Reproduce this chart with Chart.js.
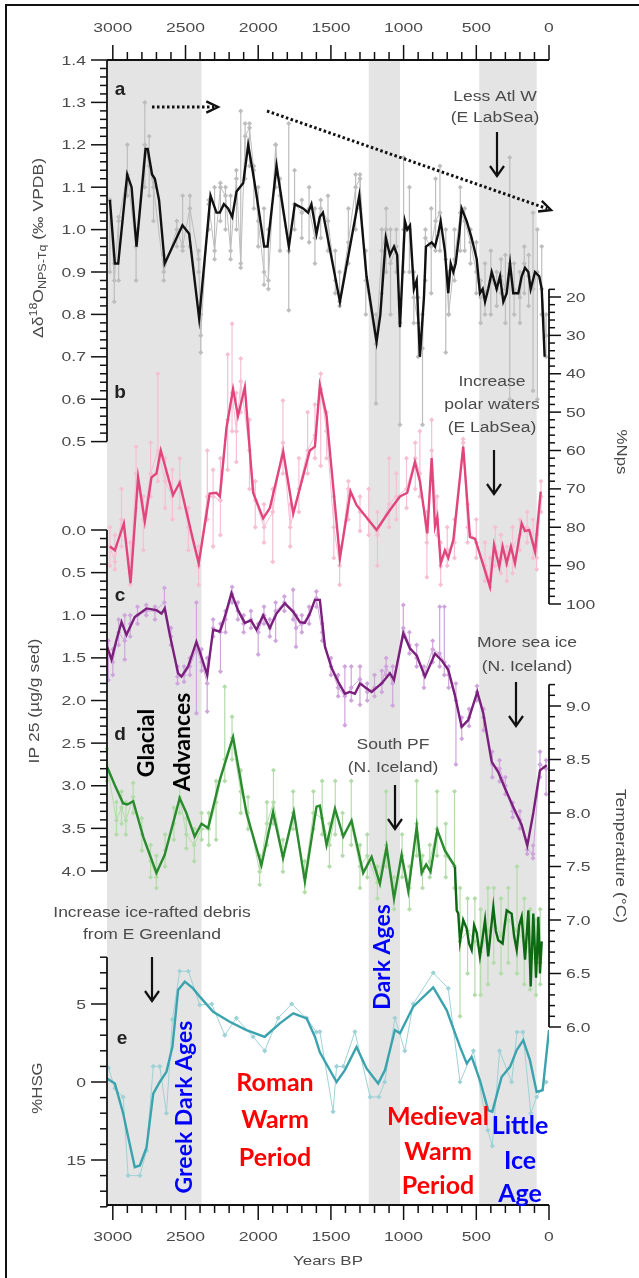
<!DOCTYPE html>
<html>
<head>
<meta charset="utf-8">
<script src="https://cdn.jsdelivr.net/npm/chart.js@4.4.1/dist/chart.umd.min.js"></script>
<style>
  html, body { margin: 0; padding: 0; background: #fff; }
  #chart { display: block; width: 639px; height: 1278px; }
</style>
</head>
<body>
<canvas id="chart" width="639" height="1278"></canvas>
<script>
// ---- x axis (years BP) ----
const xMin = 0, xMax = 3040;
const xTickLabels = [3000, 2500, 2000, 1500, 1000, 500, 0];
const shadedBands = [[3040, 2390], [1240, 1025], [480, 85]];

// ---- a: delta d18O NPS-Tq (per mil VPDB) ----
const aYears = [3020, 2986, 2963, 2901, 2871, 2837, 2775, 2760, 2730, 2711, 2682, 2643, 2521, 2475, 2406, 2328, 2287, 2264, 2236, 2207, 2179, 2149, 2103, 2069, 2039, 2011, 1959, 1936, 1874, 1789, 1748, 1691, 1657, 1634, 1599, 1576, 1555, 1438, 1305, 1255, 1186, 1160, 1122, 1094, 1066, 1044, 1025, 991, 975, 956, 929, 910, 888, 860, 846, 807, 784, 762, 745, 716, 693, 676, 658, 642, 617, 601, 566, 532, 497, 475, 456, 440, 418, 394, 360, 337, 314, 291, 268, 246, 211, 188, 165, 142, 126, 96, 67, 50, 30];
const aSmooth = [1.07, 0.92, 0.92, 1.13, 1.10, 0.96, 1.19, 1.19, 1.13, 1.12, 1.07, 0.92, 1.01, 0.99, 0.79, 1.08, 1.04, 1.04, 1.06, 1.05, 1.03, 1.09, 1.11, 1.20, 1.14, 1.08, 0.96, 0.96, 1.15, 0.96, 1.06, 1.05, 1.04, 1.06, 0.99, 1.03, 1.04, 0.83, 1.08, 0.89, 0.735, 0.80, 0.98, 0.94, 0.96, 0.94, 0.77, 1.02, 1.00, 1.01, 0.86, 0.88, 0.70, 0.84, 0.96, 0.97, 0.96, 0.99, 1.02, 0.95, 0.85, 0.92, 0.90, 0.92, 0.99, 1.05, 1.02, 0.98, 0.93, 0.85, 0.86, 0.83, 0.86, 0.90, 0.86, 0.89, 0.83, 0.85, 0.92, 0.85, 0.85, 0.89, 0.91, 0.90, 0.86, 0.90, 0.89, 0.86, 0.70];
const aRawYears = [3020, 2990, 2960, 2900, 2840, 2780, 2750, 2720, 2650, 2560, 2520, 2470, 2410, 2395, 2340, 2300, 2260, 2225, 2190, 2150, 2120, 2090, 2060, 2030, 2000, 1960, 1930, 1880, 1850, 1790, 1750, 1700, 1650, 1610, 1570, 1520, 1470, 1440, 1380, 1330, 1300, 1260, 1190, 1150, 1120, 1090, 1050, 1025, 1000, 960, 930, 900, 870, 850, 810, 780, 750, 710, 690, 650, 610, 580, 540, 500, 470, 440, 400, 360, 330, 300, 270, 240, 200, 170, 140, 110, 80, 50, 20];
const aRaw = [1.07, 0.88, 1.02, 1.13, 0.96, 1.20, 1.15, 1.10, 0.90, 1.00, 0.96, 1.05, 0.93, 0.75, 1.06, 0.95, 1.10, 1.08, 0.95, 1.12, 0.92, 1.22, 1.24, 1.14, 1.02, 0.90, 0.88, 1.20, 1.08, 0.95, 1.06, 1.04, 1.05, 0.98, 1.05, 1.02, 0.88, 0.83, 0.97, 1.10, 1.12, 0.88, 0.73, 0.95, 1.00, 0.92, 0.96, 0.78, 1.00, 1.00, 0.84, 0.78, 0.72, 0.98, 0.96, 1.02, 1.04, 0.93, 0.80, 0.93, 1.04, 1.02, 0.97, 0.90, 0.84, 0.85, 0.88, 0.86, 0.89, 0.86, 0.92, 0.86, 0.84, 0.92, 0.89, 0.86, 0.90, 0.86, 0.75];
const aRawLo = [0.90, 0.83, 0.88, 1.08, 0.88, 1.10, 1.08, 1.02, 0.88, 0.96, 0.95, 0.96, 0.90, 0.71, 1.00, 0.93, 1.02, 1.00, 0.93, 1.00, 0.91, 1.12, 1.15, 1.05, 0.96, 0.87, 0.86, 1.10, 0.95, 0.81, 1.00, 0.98, 0.97, 0.92, 0.98, 0.95, 0.85, 0.82, 0.92, 1.00, 1.05, 0.80, 0.59, 0.85, 0.90, 0.80, 0.90, 0.54, 0.90, 0.90, 0.78, 0.70, 0.54, 0.88, 0.85, 0.95, 0.95, 0.71, 0.80, 0.88, 0.95, 0.95, 0.92, 0.85, 0.78, 0.80, 0.80, 0.82, 0.85, 0.78, 0.60, 0.80, 0.78, 0.85, 0.82, 0.62, 0.60, 0.80, 0.70];
const aRawHi = [1.07, 0.92, 1.03, 1.20, 1.00, 1.30, 1.22, 1.12, 0.94, 1.02, 1.08, 1.08, 0.95, 0.80, 1.07, 1.10, 1.11, 1.10, 1.08, 1.14, 1.28, 1.25, 1.25, 1.15, 1.10, 1.05, 1.00, 1.20, 1.12, 1.25, 1.14, 1.07, 1.10, 1.05, 1.07, 1.08, 0.95, 0.90, 1.05, 1.13, 1.13, 0.95, 0.80, 1.00, 1.05, 1.00, 1.00, 0.82, 1.17, 1.10, 0.90, 0.84, 0.80, 1.00, 1.05, 1.12, 1.15, 1.00, 0.90, 1.00, 1.10, 1.05, 1.00, 0.97, 0.88, 0.92, 0.95, 0.90, 0.93, 0.94, 1.17, 0.92, 0.90, 0.96, 0.94, 1.04, 1.00, 0.96, 0.80];
const aTicks = [1.4, 1.3, 1.2, 1.1, 1.0, 0.9, 0.8, 0.7, 0.6, 0.5];

// ---- b: %Nps ----
const bYears = [3020, 2986, 2924, 2878, 2826, 2780, 2734, 2700, 2670, 2586, 2540, 2448, 2409, 2334, 2288, 2264, 2218, 2173, 2139, 2092, 2035, 1966, 1920, 1828, 1759, 1645, 1610, 1576, 1530, 1438, 1365, 1324, 1186, 1094, 1025, 975, 922, 888, 837, 807, 784, 768, 745, 716, 693, 658, 590, 544, 509, 406, 378, 342, 319, 291, 262, 234, 188, 165, 136, 96, 57];
const bSmooth = [85, 86, 79, 94.6, 67, 78.5, 67, 66, 60, 71.6, 68.4, 83.3, 89.4, 71.2, 71, 72, 54, 44, 51, 43.5, 71, 77.7, 75, 60.3, 76.4, 60, 59, 43, 51, 88, 70.7, 74.2, 80.7, 75.5, 72, 71, 63, 68, 81.6, 62, 79.8, 77.3, 89.4, 86, 88, 83.3, 59, 82.5, 83, 95.5, 84.6, 90.3, 85, 89.4, 85, 89.4, 79, 81, 80.7, 86.3, 70.7];
const bRawYears = [3020, 2986, 2940, 2880, 2840, 2790, 2740, 2690, 2640, 2590, 2540, 2480, 2410, 2350, 2310, 2260, 2210, 2180, 2150, 2120, 2060, 2020, 1960, 1900, 1830, 1780, 1720, 1660, 1610, 1570, 1530, 1480, 1440, 1380, 1300, 1240, 1180, 1100, 1050, 980, 920, 888, 840, 807, 770, 745, 700, 650, 590, 560, 500, 440, 406, 370, 330, 290, 250, 200, 150, 110, 85, 55];
const bRaw = [85, 89, 78, 92, 66, 78, 66, 60, 68, 72, 68, 80, 90, 72, 72, 73, 52, 45, 55, 42, 60, 73, 80, 76, 58, 80, 70, 60, 56, 44, 55, 80, 90, 70, 76, 78, 82, 74, 72, 70, 62, 66, 84, 60, 78, 90, 86, 84, 58, 80, 84, 90, 94, 85, 88, 90, 85, 82, 80, 84, 88, 72];
const bRawLo = [80, 82, 70, 84, 59, 72, 58, 40, 62, 65, 62, 75, 85, 60, 65, 62, 35, 27, 45, 36, 52, 68, 74, 70, 47, 74, 62, 50, 48, 40, 50, 72, 85, 68, 72, 70, 76, 62, 66, 62, 58, 55, 76, 52, 72, 84, 80, 78, 57, 74, 78, 84, 88, 80, 82, 85, 80, 78, 76, 78, 82, 68];
const bRawHi = [90, 91, 85, 95, 75, 86, 72, 68, 75, 78, 75, 86, 95, 78, 85, 82, 65, 55, 63, 50, 70, 80, 84, 89, 66, 85, 76, 66, 62, 64, 62, 88, 95, 78, 81, 82, 90, 80, 78, 75, 70, 72, 93, 66, 82, 95, 90, 88, 62, 84, 88, 94, 95.5, 90, 92, 94, 92, 86, 84, 88, 91, 76];
const bTicks = [20, 30, 40, 50, 60, 70, 80, 90, 100];

// ---- c: IP25 (ug/g sed) ----
const cYears = [3039, 3009, 2975, 2940, 2906, 2849, 2768, 2700, 2665, 2643, 2608, 2551, 2528, 2482, 2425, 2390, 2351, 2310, 2264, 2230, 2184, 2139, 2092, 2050, 2012, 1966, 1920, 1874, 1817, 1759, 1713, 1679, 1645, 1610, 1576, 1541, 1495, 1450, 1404, 1369, 1335, 1300, 1260, 1220, 1151, 1094, 1066, 1002, 956, 910, 853, 784, 738, 693, 647, 601, 555, 493, 452, 394, 349, 303, 246, 188, 149, 108, 62, 16];
const cSmooth = [1.37, 1.52, 1.29, 1.08, 1.23, 1.02, 0.92, 0.94, 0.98, 0.92, 1.23, 1.68, 1.72, 1.60, 1.31, 1.49, 1.70, 1.17, 1.19, 1.02, 0.74, 0.94, 1.09, 1.06, 1.17, 1.00, 1.15, 0.98, 0.86, 0.96, 1.08, 1.09, 0.98, 0.82, 0.82, 1.37, 1.62, 1.78, 1.92, 1.90, 1.92, 1.80, 1.85, 1.90, 1.80, 1.68, 1.76, 1.21, 1.39, 1.47, 1.72, 1.45, 1.53, 1.64, 1.94, 2.31, 2.23, 1.90, 2.15, 2.72, 2.84, 3.03, 3.25, 3.46, 3.70, 3.32, 2.82, 2.76];
const cRawYears = [3030, 3000, 2960, 2918, 2880, 2830, 2770, 2710, 2645, 2600, 2555, 2510, 2470, 2425, 2390, 2351, 2310, 2260, 2225, 2180, 2140, 2100, 2050, 2000, 1960, 1920, 1880, 1820, 1760, 1740, 1700, 1650, 1600, 1560, 1500, 1450, 1404, 1360, 1300, 1250, 1200, 1150, 1120, 1075, 1002, 960, 910, 860, 800, 752, 720, 690, 640, 600, 550, 495, 450, 390, 340, 300, 250, 200, 150, 110, 62, 20];
const cRaw = [1.45, 1.55, 1.20, 1.30, 1.10, 1.00, 0.95, 0.95, 0.85, 1.25, 1.72, 1.70, 1.60, 1.40, 1.55, 1.80, 1.15, 1.20, 1.05, 0.75, 0.95, 1.10, 1.05, 1.20, 1.00, 1.15, 0.95, 0.85, 0.95, 1.15, 1.10, 1.00, 0.80, 1.20, 1.60, 1.85, 1.95, 1.85, 1.75, 1.90, 1.85, 1.80, 1.60, 1.80, 1.15, 1.35, 1.50, 1.70, 1.40, 1.45, 1.55, 1.70, 2.00, 2.30, 2.20, 1.90, 2.20, 2.75, 2.80, 3.00, 3.30, 3.40, 3.75, 3.80, 2.75, 2.80];
const cRawLo = [1.30, 1.40, 1.05, 1.00, 1.00, 0.90, 0.88, 0.90, 0.68, 1.15, 1.60, 1.60, 1.50, 0.85, 1.40, 1.50, 1.05, 1.10, 0.95, 0.67, 0.85, 1.00, 0.95, 1.10, 0.90, 1.05, 0.85, 0.78, 0.70, 1.00, 1.00, 0.90, 0.72, 1.10, 1.50, 1.70, 1.60, 1.60, 1.60, 1.80, 1.70, 1.65, 1.50, 1.60, 0.88, 1.20, 1.35, 1.60, 1.30, 0.90, 0.90, 1.60, 1.80, 2.20, 2.10, 1.83, 2.10, 2.60, 2.70, 2.90, 3.20, 3.30, 3.65, 3.70, 2.60, 2.70];
const cRawHi = [1.76, 1.70, 1.35, 1.52, 1.25, 1.10, 1.00, 1.05, 0.95, 1.35, 1.80, 1.78, 1.70, 2.15, 1.65, 2.13, 1.25, 1.66, 1.20, 0.85, 1.05, 1.20, 1.15, 1.46, 1.10, 1.25, 1.30, 0.95, 1.05, 1.37, 1.20, 1.10, 0.90, 1.30, 1.70, 1.95, 2.29, 2.00, 2.05, 2.00, 1.95, 1.90, 1.70, 2.06, 1.25, 1.45, 1.60, 1.85, 1.55, 1.60, 1.70, 1.85, 2.75, 2.45, 2.30, 2.00, 2.35, 2.90, 2.95, 3.10, 3.37, 3.50, 3.80, 3.85, 2.90, 3.10];
const cTicks = [0.0, 0.5, 1.0, 1.5, 2.0, 2.5, 3.0, 3.5, 4.0];

// ---- d: Temperature (C) ----
const dYears = [3039, 2986, 2929, 2900, 2860, 2791, 2700, 2643, 2540, 2494, 2437, 2390, 2345, 2264, 2173, 2081, 1978, 1898, 1829, 1755, 1679, 1599, 1576, 1530, 1472, 1415, 1358, 1278, 1220, 1163, 1117, 1066, 1014, 968, 910, 876, 845, 815, 768, 716, 647, 635, 624, 612, 590, 566, 550, 532, 515, 497, 475, 458, 440, 418, 400, 383, 366, 349, 319, 305, 291, 257, 240, 222, 205, 188, 165, 142, 126, 108, 89, 73, 62, 50];
const dSmooth = [8.43, 8.26, 8.09, 8.08, 8.11, 7.78, 7.44, 7.61, 8.14, 8.00, 7.78, 7.90, 7.86, 8.31, 8.71, 8.00, 7.51, 8.01, 7.58, 8.01, 7.36, 8.06, 8.07, 7.70, 8.04, 7.78, 7.93, 7.44, 7.59, 7.34, 7.68, 7.20, 7.61, 7.27, 7.87, 7.44, 7.52, 7.45, 7.84, 7.65, 7.50, 7.09, 7.06, 6.80, 7.00, 6.92, 6.78, 6.72, 6.95, 6.88, 6.66, 6.82, 7.00, 6.66, 6.90, 7.12, 6.90, 6.81, 6.78, 6.95, 7.09, 7.06, 6.85, 6.72, 6.95, 7.03, 6.63, 7.09, 6.38, 7.06, 6.46, 7.03, 6.50, 6.80];
const dRawYears = [3040, 2975, 2940, 2910, 2860, 2800, 2740, 2700, 2640, 2580, 2540, 2494, 2440, 2390, 2340, 2290, 2230, 2180, 2120, 2070, 1990, 1940, 1895, 1830, 1760, 1680, 1620, 1560, 1510, 1470, 1420, 1360, 1300, 1250, 1180, 1120, 1066, 1010, 960, 910, 870, 820, 770, 710, 650, 612, 560, 510, 470, 420, 380, 330, 280, 220, 170, 130, 90, 60];
const dRaw = [8.45, 7.93, 8.05, 7.93, 8.15, 7.80, 7.55, 7.40, 7.65, 7.90, 8.15, 7.80, 7.70, 7.85, 7.85, 8.10, 8.50, 8.70, 8.20, 8.00, 7.45, 7.90, 8.10, 7.60, 8.00, 7.40, 8.00, 7.95, 7.70, 8.00, 7.80, 7.90, 7.50, 7.60, 7.35, 7.70, 7.25, 7.60, 7.30, 7.90, 7.45, 7.55, 7.85, 7.60, 7.50, 6.80, 6.90, 6.80, 6.70, 6.90, 7.00, 6.85, 7.00, 6.90, 6.80, 6.70, 6.60, 6.60];
const dRawLo = [8.30, 7.80, 7.90, 7.80, 8.00, 7.65, 7.40, 7.30, 7.50, 7.75, 8.00, 7.67, 7.55, 7.75, 7.70, 7.75, 8.30, 8.50, 8.00, 7.85, 7.33, 7.70, 7.90, 7.45, 7.85, 7.26, 7.85, 7.80, 7.50, 7.80, 7.60, 7.70, 7.30, 7.40, 7.20, 7.50, 7.10, 7.40, 7.10, 7.60, 7.30, 7.40, 7.60, 7.40, 7.30, 6.10, 6.50, 6.30, 6.30, 6.40, 6.60, 6.50, 6.60, 6.50, 6.40, 6.35, 6.30, 6.40];
const dRawHi = [8.60, 8.10, 8.20, 8.10, 8.28, 7.95, 7.70, 7.60, 7.80, 8.05, 8.30, 7.95, 7.85, 8.00, 8.00, 8.30, 9.18, 8.90, 8.40, 8.15, 7.60, 8.10, 8.40, 7.75, 8.20, 7.55, 8.20, 8.30, 7.90, 8.30, 8.00, 8.30, 7.70, 7.80, 7.50, 8.20, 7.40, 7.80, 7.50, 8.30, 7.60, 7.70, 8.20, 7.90, 8.20, 7.30, 7.20, 7.20, 7.10, 7.30, 7.30, 7.20, 7.30, 7.50, 7.20, 7.10, 7.00, 7.10];
const dTicks = [9.0, 8.5, 8.0, 7.5, 7.0, 6.5, 6.0];

// ---- e: %HSG (axis units: label "5" = 5, label "0" = 10, label "15" = 15) ----
const eYears = [3039, 2986, 2929, 2895, 2849, 2814, 2768, 2722, 2677, 2631, 2590, 2551, 2505, 2448, 2402, 2310, 2196, 2081, 1955, 1851, 1759, 1667, 1610, 1576, 1461, 1404, 1324, 1255, 1175, 1128, 1060, 1025, 934, 796, 704, 612, 566, 532, 475, 418, 390, 326, 268, 222, 177, 131, 85, 44, 0];
const eSmooth = [9.78, 10.1, 12.0, 13.5, 15.46, 15.35, 14.2, 10.74, 10.0, 9.35, 7.75, 4.1, 3.57, 4.0, 4.53, 5.5, 6.14, 6.67, 7.1, 6.24, 5.6, 5.92, 7.1, 8.1, 10.0, 9.24, 7.75, 9.13, 10.1, 9.24, 6.67, 6.88, 5.17, 3.93, 5.39, 7.75, 8.81, 8.39, 9.89, 11.82, 11.9, 9.68, 9.03, 7.96, 7.32, 8.6, 10.64, 10.53, 6.67];
const eRawYears = [3030, 2986, 2929, 2895, 2814, 2768, 2722, 2677, 2631, 2590, 2540, 2480, 2402, 2320, 2230, 2150, 2035, 1955, 1863, 1770, 1667, 1600, 1576, 1485, 1461, 1415, 1335, 1230, 1170, 1130, 1060, 992, 934, 796, 693, 612, 520, 420, 390, 340, 257, 220, 180, 125, 85, 20];
const eRaw = [9.1, 10.4, 10.96, 16.0, 16.0, 14.4, 9.0, 9.0, 12.0, 6.0, 2.9, 2.9, 5.06, 5.0, 7.0, 5.9, 7.1, 8.0, 5.9, 5.0, 5.9, 6.8, 6.78, 11.9, 9.0, 9.0, 6.78, 10.96, 10.96, 10.0, 5.9, 8.0, 5.0, 3.0, 4.0, 10.0, 8.0, 13.1, 14.1, 8.0, 10.0, 6.8, 6.8, 12.0, 10.96, 10.0];
const eTickVals = [5, 10, 15];
const eTickLabels = ['5', '0', '15'];

// ---- plot geometry (pixels) ----
const area = { left: 107, right: 549, top: 60, bottom: 1205 };
const ink = '#4a4a4a';
const sansFont = '"Liberation Sans", Arial, sans-serif';
const boldFont = 'Lato, "Open Sans", sans-serif';

// value v1 at pixel p1, v2 at p2 -> values at top and bottom of the plot area
function spanFor(v1, p1, v2, p2) {
    const k = (v2 - v1) / (p2 - p1);
    return { top: v1 + (area.top - p1) * k, bottom: v1 + (area.bottom - p1) * k };
}
const spanA = spanFor(1.4, 60, 0.5, 441.6);
const spanB = spanFor(20, 297, 100, 604);
const spanC = spanFor(0, 530, 4, 871);
const spanD = spanFor(9.0, 706, 6.0, 1027);
const spanE = spanFor(5, 1004, 15, 1160);

const pts = (xs, ys) => xs.map((x, i) => ({ x: x, y: ys[i] }));

function rawSet(xs, ys, axis, color, lo, hi) {
    return {
        data: pts(xs, ys), yAxisID: axis, order: 2,
        borderColor: color, backgroundColor: color, borderWidth: 1,
        pointStyle: 'rectRot', pointRadius: 2.6, pointBorderWidth: 0,
        pointBackgroundColor: color, errLo: lo, errHi: hi
    };
}
function smoothSet(xs, ys, axis, color, extra) {
    return Object.assign({
        data: pts(xs, ys), yAxisID: axis, order: 1,
        borderColor: color, borderWidth: 2.4, pointRadius: 0, tension: 0
    }, extra || {});
}

// gray shaded intervals
const bandsPlugin = {
    id: 'bands',
    beforeDatasetsDraw(chart) {
        const c = chart.ctx, x = chart.scales.x, a = chart.chartArea;
        c.save();
        c.fillStyle = '#e4e4e4';
        shadedBands.forEach(b => {
            const x1 = x.getPixelForValue(b[0]), x2 = x.getPixelForValue(b[1]);
            c.fillRect(x1, a.top, x2 - x1, a.bottom - a.top);
        });
        // error bars of the raw series
        chart.data.datasets.forEach(ds => {
            if (!ds.errLo) return;
            const y = chart.scales[ds.yAxisID];
            c.strokeStyle = ds.borderColor;
            c.fillStyle = ds.borderColor;
            c.lineWidth = 1.2;
            ds.data.forEach((p, i) => {
                const px = x.getPixelForValue(p.x);
                const y1 = y.getPixelForValue(ds.errLo[i]), y2 = y.getPixelForValue(ds.errHi[i]);
                c.beginPath(); c.moveTo(px, y1); c.lineTo(px, y2); c.stroke();
                [y1, y2].forEach(yy => {
                    c.beginPath();
                    c.moveTo(px, yy - 2.5); c.lineTo(px + 2.5, yy); c.lineTo(px, yy + 2.5); c.lineTo(px - 2.5, yy);
                    c.closePath(); c.fill();
                });
            });
        });
        c.restore();
    }
};

function txt(c, s, x, y, o) {
    c.save();
    c.translate(x, y);
    if (o.rot) c.rotate(o.rot);
    c.scale(o.sx || 1, 1);
    c.font = o.font;
    c.fillStyle = o.color || ink;
    c.textAlign = o.align || 'center';
    c.textBaseline = o.base || 'middle';
    c.fillText(s, 0, 0);
    c.restore();
}

function downArrow(c, x, y1, y2) {
    c.save();
    c.strokeStyle = '#111'; c.lineWidth = 2.2;
    c.beginPath(); c.moveTo(x, y1); c.lineTo(x, y2); c.stroke();
    c.beginPath(); c.moveTo(x - 7, y2 - 10); c.lineTo(x, y2); c.lineTo(x + 7, y2 - 10); c.stroke();
    c.restore();
}
function dottedArrow(c, x1, y1, x2, y2) {
    c.save();
    c.strokeStyle = '#111'; c.lineWidth = 3;
    c.setLineDash([2.5, 2.5]);
    c.beginPath(); c.moveTo(x1, y1); c.lineTo(x2 - 4 * Math.cos(Math.atan2(y2 - y1, x2 - x1)), y2 - 4 * Math.sin(Math.atan2(y2 - y1, x2 - x1))); c.stroke();
    c.setLineDash([]);
    const ang = Math.atan2(y2 - y1, x2 - x1);
    c.lineWidth = 2.4;
    c.beginPath();
    c.moveTo(x2 - 13 * Math.cos(ang - 0.45), y2 - 13 * Math.sin(ang - 0.45));
    c.lineTo(x2, y2);
    c.lineTo(x2 - 13 * Math.cos(ang + 0.45), y2 - 13 * Math.sin(ang + 0.45));
    c.stroke();
    c.restore();
}

// y axis with ticks: side -1 = left, +1 = right
function yAxis(c, scale, xPos, side, from, to, minorStep, majors, labels, majorLen, minorLen) {
    const yA = scale.getPixelForValue(from), yB = scale.getPixelForValue(to);
    c.save();
    c.strokeStyle = '#111'; c.lineWidth = 1.8;
    c.beginPath(); c.moveTo(xPos, yA); c.lineTo(xPos, yB); c.stroke();
    c.lineWidth = 1.5;
    const n = Math.round(Math.abs(to - from) / minorStep);
    const lowV = Math.min(from, to);
    for (let i = 0; i <= n; i++) {
        const v = lowV + i * minorStep;
        const isMajor = majors.some(m => Math.abs(m - v) < minorStep / 10);
        const py = scale.getPixelForValue(v);
        const len = isMajor ? majorLen : minorLen;
        c.beginPath(); c.moveTo(xPos, py); c.lineTo(xPos + side * len, py); c.stroke();
    }
    majors.forEach((m, i) => {
        const py = scale.getPixelForValue(m);
        txt(c, labels[i], xPos + side * (majorLen + 5), py + 1, {
            font: '13px ' + sansFont, sx: 1.35, align: side < 0 ? 'right' : 'left'
        });
    });
    c.restore();
}

function xAxis(c, x, yPos, dir, labelY) {
    c.save();
    c.strokeStyle = '#111'; c.lineWidth = 1.8;
    c.beginPath(); c.moveTo(x.getPixelForValue(xMax), yPos); c.lineTo(x.getPixelForValue(xMin), yPos); c.stroke();
    c.lineWidth = 1.5;
    for (let v = 0; v <= 3000; v += 100) {
        const px = x.getPixelForValue(v);
        const len = v % 500 === 0 ? 15 : 8;
        c.beginPath(); c.moveTo(px, yPos); c.lineTo(px, yPos + dir * len); c.stroke();
    }
    xTickLabels.forEach(v => {
        txt(c, String(v), x.getPixelForValue(v), labelY, { font: '13px ' + sansFont, sx: 1.35 });
    });
    c.restore();
}

const decorPlugin = {
    id: 'decor',
    afterDatasetsDraw(chart) {
        const c = chart.ctx, s = chart.scales;
        // frame lines at top and left of the figure
        c.save();
        c.strokeStyle = '#111'; c.lineWidth = 2;
        c.beginPath(); c.moveTo(6, 1278); c.lineTo(6, 5); c.lineTo(639, 5); c.stroke();
        c.restore();

        xAxis(c, s.x, area.top, -1, 28);
        xAxis(c, s.x, area.bottom, 1, 1237);
        txt(c, 'Years BP', 328, 1261, { font: '13px ' + sansFont, sx: 1.3 });

        yAxis(c, s.ya, area.left, -1, 1.4, 0.5, 0.02, aTicks, aTicks.map(v => v.toFixed(1)), 16, 7);
        yAxis(c, s.yc, area.left, -1, 0, 4, 0.1, cTicks, cTicks.map(v => v.toFixed(1)), 16, 7);
        yAxis(c, s.ye, area.left, -1, 2, 18, 1, eTickVals, eTickLabels, 16, 7);
        yAxis(c, s.yb, area.right, 1, 18, 100, 2, bTicks, bTicks.map(String), 12, 6);
        yAxis(c, s.yd, area.right, 1, 9.2, 6.0, 0.1, dTicks, dTicks.map(v => v.toFixed(1)), 12, 6);

        // axis titles
        const up = -Math.PI / 2, down = Math.PI / 2;
        c.save();
        c.translate(39, 248);
        c.rotate(up);
        c.scale(1.25, 1);
        c.fillStyle = ink; c.textBaseline = 'middle';
        const big = '14px ' + sansFont, small = '10px ' + sansFont;
        const parts = [['Δδ', big, 0], ['18', small, -5], ['O', big, 0], ['NPS-Tq', small, 4], [' (‰ VPDB)', big, 0]];
        let w = 0;
        parts.forEach(p => { c.font = p[1]; w += c.measureText(p[0]).width; });
        let cx = -w / 2;
        parts.forEach(p => { c.font = p[1]; c.textAlign = 'left'; c.fillText(p[0], cx, p[2]); cx += c.measureText(p[0]).width; });
        c.restore();

        txt(c, 'IP 25 (µg/g sed)', 35, 701, { font: '14px ' + sansFont, sx: 1.25, rot: up });
        txt(c, '%HSG', 38, 1088, { font: '14px ' + sansFont, sx: 1.2, rot: up });
        txt(c, '%Nps', 621, 452, { font: '14px ' + sansFont, sx: 1.2, rot: down });
        txt(c, 'Temperature (°C)', 620, 856, { font: '14px ' + sansFont, sx: 1.25, rot: down });

        // panel letters
        const letter = 'bold 19px ' + sansFont;
        txt(c, 'a', 120, 90, { font: letter, color: '#222' });
        txt(c, 'b', 120, 393, { font: letter, color: '#222' });
        txt(c, 'c', 120, 596, { font: letter, color: '#222' });
        txt(c, 'd', 120, 735, { font: letter, color: '#222' });
        txt(c, 'e', 122, 1039, { font: letter, color: '#222' });

        // annotations
        const note = '14px ' + sansFont;
        txt(c, 'Less Atl W', 495, 97, { font: note, sx: 1.25 });
        txt(c, '(E LabSea)', 495, 118, { font: note, sx: 1.25 });
        downArrow(c, 497, 132, 176);
        txt(c, 'Increase', 492, 382, { font: note, sx: 1.25 });
        txt(c, 'polar waters', 492, 405, { font: note, sx: 1.25 });
        txt(c, '(E LabSea)', 492, 428, { font: note, sx: 1.25 });
        downArrow(c, 494, 450, 494);
        txt(c, 'More sea ice', 527, 643, { font: note, sx: 1.25 });
        txt(c, '(N. Iceland)', 527, 667, { font: note, sx: 1.25 });
        downArrow(c, 516, 682, 726);
        txt(c, 'South PF', 393, 745, { font: note, sx: 1.25 });
        txt(c, '(N. Iceland)', 393, 768, { font: note, sx: 1.25 });
        downArrow(c, 395, 785, 829);
        txt(c, 'Increase ice-rafted debris', 152, 913, { font: note, sx: 1.25 });
        txt(c, 'from E Greenland', 152, 935, { font: note, sx: 1.25 });
        downArrow(c, 152, 957, 1001);

        dottedArrow(c, 152, 107, 218, 107);
        dottedArrow(c, 267, 111, 551, 210);

        // period labels
        const period = 'bold 25px ' + boldFont;
        txt(c, 'Glacial', 147, 743, { font: 'bold 23px ' + boldFont, color: '#000', rot: up });
        txt(c, 'Advances', 183, 742, { font: 'bold 23px ' + boldFont, color: '#000', rot: up });
        txt(c, 'Greek Dark Ages', 185, 1107, { font: 'bold 23px ' + boldFont, color: '#0000ff', rot: up });
        txt(c, 'Dark Ages', 383, 957, { font: 'bold 23px ' + boldFont, color: '#0000ff', rot: up });
        txt(c, 'Roman', 275, 1083, { font: period, color: '#ff0000' });
        txt(c, 'Warm', 275, 1120, { font: period, color: '#ff0000' });
        txt(c, 'Period', 275, 1158, { font: period, color: '#ff0000' });
        txt(c, 'Medieval', 438, 1117, { font: period, color: '#ff0000' });
        txt(c, 'Warm', 438, 1152, { font: period, color: '#ff0000' });
        txt(c, 'Period', 438, 1186, { font: period, color: '#ff0000' });
        txt(c, 'Little', 520, 1126, { font: period, color: '#0000ff' });
        txt(c, 'Ice', 520, 1161, { font: period, color: '#0000ff' });
        txt(c, 'Age', 520, 1194, { font: period, color: '#0000ff' });
    }
};

const ctx = document.getElementById('chart').getContext('2d');
new Chart(ctx, {
    type: 'line',
    data: {
        datasets: [
            smoothSet(aYears, aSmooth, 'ya', '#111111'),
            smoothSet(bYears, bSmooth, 'yb', '#e0457b'),
            smoothSet(cYears, cSmooth, 'yc', '#7a1f7c'),
            smoothSet(dYears, dSmooth, 'yd', '#2a8a2e', {
                segment: { borderColor: p => p.p0.parsed.x < 650 ? '#0d6a12' : '#2a8a2e' }
            }),
            smoothSet(eYears, eSmooth, 'ye', '#3aa3ad'),
            rawSet(aRawYears, aRaw, 'ya', '#bdbdbd', aRawLo, aRawHi),
            rawSet(bRawYears, bRaw, 'yb', '#f6bfd3', bRawLo, bRawHi),
            rawSet(cRawYears, cRaw, 'yc', '#cfa6dc', cRawLo, cRawHi),
            rawSet(dRawYears, dRaw, 'yd', '#b4dcaa', dRawLo, dRawHi),
            rawSet(eRawYears, eRaw, 'ye', '#9fd2d6')
        ]
    },
    options: {
        responsive: false,
        animation: false,
        layout: { padding: { left: area.left, right: 639 - area.right, top: area.top, bottom: 1278 - area.bottom } },
        plugins: { legend: { display: false }, tooltip: { enabled: false }, title: { display: false } },
        scales: {
            x: { type: 'linear', reverse: true, min: xMin, max: xMax, display: false },
            ya: { type: 'linear', min: spanA.bottom, max: spanA.top, display: false },
            yb: { type: 'linear', reverse: true, min: spanB.top, max: spanB.bottom, display: false },
            yc: { type: 'linear', reverse: true, min: spanC.top, max: spanC.bottom, display: false },
            yd: { type: 'linear', min: spanD.bottom, max: spanD.top, display: false },
            ye: { type: 'linear', reverse: true, min: spanE.top, max: spanE.bottom, display: false }
        }
    },
    plugins: [bandsPlugin, decorPlugin]
});
</script>
</body>
</html>
